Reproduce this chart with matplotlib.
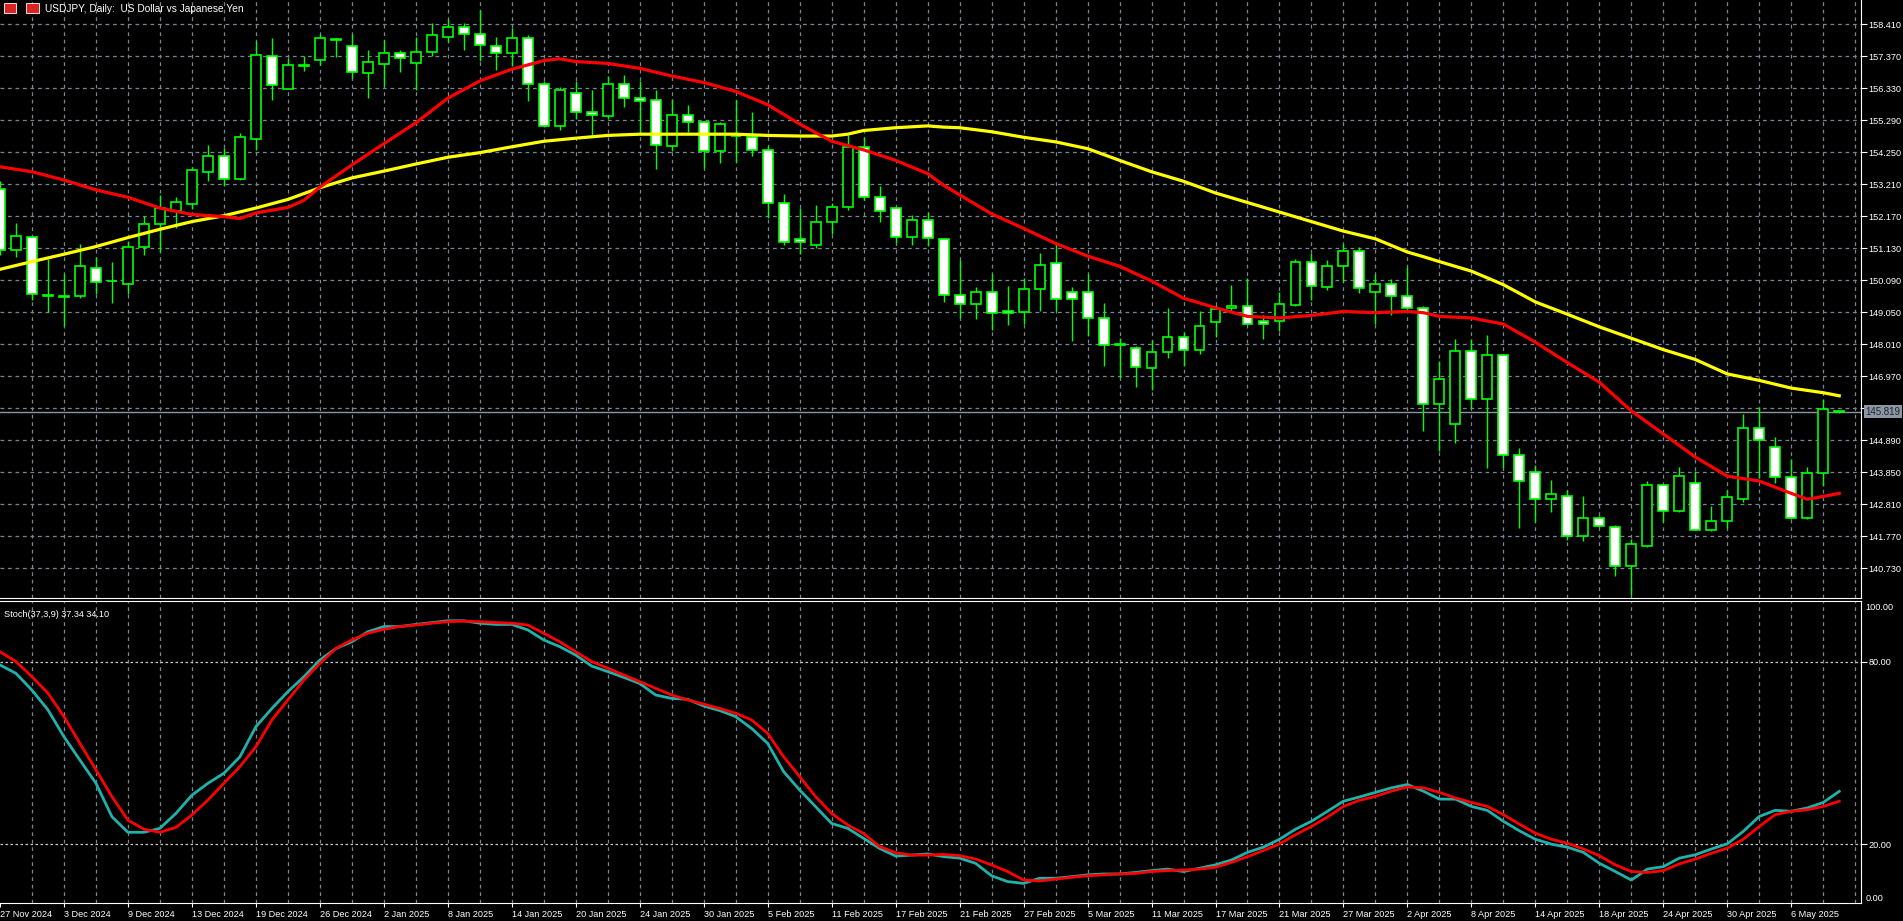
import matplotlib
matplotlib.use("Agg")
import matplotlib.pyplot as plt
from matplotlib.patches import Rectangle
import numpy as np

plt.rcParams["font.family"] = ["Liberation Sans", "DejaVu Sans"]

# ---------------- data ----------------
ohlc = [
(153.05,153.30,150.90,151.06),(151.06,151.95,150.85,151.52),(151.49,151.50,149.44,149.63),(149.60,150.77,149.04,149.58),
(149.57,150.28,148.61,149.55),(149.57,151.25,149.50,150.55),(150.49,150.85,149.63,150.03),(150.07,150.67,149.36,150.05),
(149.96,151.37,149.63,151.17),(151.16,152.18,150.90,151.91),(151.91,152.86,151.00,152.43),(152.34,152.78,151.78,152.63),
(152.55,153.76,152.39,153.67),(153.61,154.48,153.30,154.11),(154.11,154.38,153.15,153.39),(153.39,154.88,153.34,154.73),
(154.67,157.86,154.33,157.40),(157.37,157.94,155.95,156.43),(156.30,157.32,156.30,157.09),(157.05,157.38,156.88,157.07),
(157.25,158.09,157.07,157.96),(157.89,157.96,157.34,157.91),(157.71,158.09,156.66,156.84),(156.82,157.56,156.00,157.19),
(157.12,157.90,156.41,157.46),(157.46,157.56,156.84,157.30),(157.13,157.99,156.25,157.50),(157.49,158.43,157.37,158.06),
(158.00,158.56,157.84,158.31),(158.31,158.43,157.56,158.09),(158.09,158.88,157.22,157.74),(157.69,157.99,156.90,157.46),
(157.46,158.27,157.03,157.96),(157.96,158.06,155.91,156.47),(156.47,156.56,155.05,155.10),(155.10,156.37,154.98,156.27),
(156.17,156.57,155.31,155.55),(155.55,156.25,154.79,155.44),(155.41,156.72,155.33,156.47),(156.47,156.76,155.72,156.01),
(156.01,156.57,154.85,155.91),(155.95,156.25,153.70,154.48),(154.44,155.97,154.29,155.45),(155.45,155.79,154.91,155.23),
(155.23,155.25,153.73,154.28),(154.28,155.23,153.88,155.16),(154.76,155.95,153.92,154.78),(154.73,155.54,154.13,154.32),
(154.32,154.44,152.12,152.59),(152.59,152.89,151.22,151.33),(151.42,152.43,150.93,151.33),(151.22,152.53,151.12,151.99),
(151.97,152.61,151.59,152.46),(152.45,154.79,152.37,154.42),(154.42,154.73,152.68,152.78),(152.78,153.15,151.99,152.34),
(152.43,152.45,151.31,151.49),(151.49,152.22,151.22,152.03),(152.03,152.30,151.21,151.46),(151.41,151.45,149.38,149.60),
(149.60,150.75,148.86,149.32),(149.32,149.88,148.82,149.69),(149.69,150.28,148.48,149.03),(149.07,149.90,148.63,149.01),
(149.04,150.15,148.66,149.79),(149.79,150.97,149.07,150.57),(150.65,151.25,149.07,149.48),(149.69,149.88,148.11,149.48),
(149.69,150.28,148.26,148.86),(148.86,149.34,147.29,147.99),(148.01,148.20,146.92,147.99),(147.89,147.95,146.61,147.27),
(147.23,148.14,146.52,147.76),(147.74,149.19,147.55,148.24),(148.24,148.39,147.30,147.83),(147.83,149.07,147.68,148.60),
(148.72,149.28,148.24,149.16),(149.17,149.94,149.07,149.26),(149.26,150.15,148.66,148.66),(148.76,148.94,148.16,148.66),
(148.76,149.69,148.45,149.32),(149.28,150.77,149.26,150.67),(150.67,150.96,149.44,149.90),(149.85,150.75,149.78,150.54),
(150.54,151.25,150.03,151.03),(151.03,151.16,149.67,149.84),(149.69,150.28,148.66,149.96),(149.96,150.12,148.94,149.57),
(149.57,150.50,149.11,149.19),(149.19,149.25,145.18,146.05),(146.05,147.45,144.53,146.89),(145.42,148.16,144.80,147.79),
(147.79,148.16,145.92,146.23),(146.23,148.29,143.97,147.66),(147.66,147.68,143.97,144.41),(144.41,144.63,142.04,143.56),
(143.85,144.09,142.23,142.97),(142.97,143.60,142.56,143.14),(143.07,143.26,141.64,141.79),(141.79,143.07,141.60,142.35),
(142.35,142.41,142.08,142.10),(142.07,142.13,140.49,140.80),(140.80,141.69,139.87,141.52),(141.44,143.56,141.42,143.43),
(143.43,143.45,142.23,142.60),(142.60,144.03,142.54,143.72),(143.51,143.88,141.96,141.98),(141.98,142.76,141.94,142.26),
(142.26,143.26,142.04,143.04),(142.97,145.75,142.88,145.28),(145.28,145.96,143.66,144.88),(144.68,145.00,143.51,143.68),
(143.68,144.28,142.33,142.35),(142.35,144.03,142.33,143.81),(143.81,146.21,143.39,145.90),(145.80,145.85,145.78,145.819),
]
opens = [r[0] for r in ohlc]
highs = [r[1] for r in ohlc]
lows = [r[2] for r in ohlc]
closes = [r[3] for r in ohlc]

ma_fast_idx = [0,2,4,6,8,10,12,14,15,16,18,19,20,22,24,26,28,30,32,34,35,36,38,40,42,44,46,48,50,52,54,56,58,59,60,62,64,66,68,70,72,74,76,78,80,82,84,86,88,89,90,92,94,96,98,100,102,104,106,108,110,112,113,114,115]
ma_fast = [153.77,153.61,153.34,153.02,152.78,152.43,152.22,152.15,152.09,152.27,152.45,152.68,153.11,153.83,154.52,155.20,156.00,156.56,156.94,157.22,157.28,157.19,157.13,156.97,156.72,156.51,156.22,155.79,155.16,154.60,154.32,153.98,153.55,153.17,152.86,152.24,151.77,151.28,150.87,150.54,150.06,149.50,149.19,148.91,148.86,148.94,149.07,149.03,149.07,149.03,148.91,148.86,148.66,148.07,147.41,146.77,145.84,145.09,144.34,143.72,143.56,143.16,142.97,143.06,143.16]

ma_slow_idx = list(range(0, 39, 2)) + [40,42,44,46,48,50,52,53,54,56,58,59,60,62,64,66,68,70,72,74,76,78,80,82,84,86,88,89,90,92,94,96,98,100,102,104,106,108,110,112,114,115]
ma_slow = [150.44,150.69,150.93,151.18,151.47,151.74,151.99,152.18,152.43,152.71,153.09,153.41,153.63,153.86,154.08,154.23,154.42,154.60,154.70,154.79,
           154.83,154.83,154.83,154.83,154.79,154.77,154.77,154.83,154.95,155.04,155.10,155.06,155.04,154.91,154.73,154.58,154.36,153.98,153.61,153.30,152.92,152.61,152.30,151.99,151.68,151.43,151.00,150.85,150.69,150.38,149.94,149.38,148.98,148.57,148.20,147.83,147.51,147.04,146.83,146.58,146.43,146.33]

stoch_main = [78.9,76.1,70.6,64.1,55.3,47.6,40.0,29.0,23.9,23.9,25.2,30.1,36.1,40.0,43.3,48.7,58.6,64.6,70.1,75.0,
              80.5,84.3,86.5,89.8,91.5,91.5,92.2,92.8,93.4,93.4,92.6,92.2,92.2,90.4,87.1,84.9,82.1,78.5,76.7,74.8,
              72.8,69.0,67.9,67.6,65.4,63.9,61.9,58.0,53.1,43.8,37.8,32.3,26.8,25.2,21.9,18.6,16.1,16.4,16.8,15.9,
              15.4,13.7,9.6,7.7,7.1,8.8,8.8,9.3,9.9,10.2,10.2,10.7,11.3,11.8,11.0,12.1,13.2,14.8,17.3,19.0,
              21.6,24.9,27.5,30.8,34.1,35.5,37.0,38.5,39.6,37.4,34.8,34.8,32.4,31.1,27.5,24.4,21.6,20.0,19.0,17.3,
              13.7,11.0,8.2,11.8,12.6,15.4,16.5,18.4,20.1,24.2,29.1,31.1,30.8,31.9,33.7,37.34]
stoch_signal = [83.2,80.0,75.0,69.6,61.9,53.1,44.4,35.6,27.9,24.9,23.9,25.5,29.6,34.5,40.0,45.5,52.0,60.8,67.4,73.9,
                79.4,84.3,87.1,89.3,90.6,91.5,92.0,92.6,93.1,93.3,93.1,92.8,92.6,92.0,89.3,86.5,83.2,80.0,77.8,75.6,
                73.4,71.2,69.0,67.4,66.0,64.6,63.0,60.8,56.4,48.7,42.2,35.6,30.1,26.3,23.5,19.2,17.2,16.4,16.4,16.6,
                16.2,15.1,13.2,11.0,8.2,7.9,8.5,9.1,9.6,9.9,10.2,10.4,11.0,11.3,11.5,11.8,12.4,14.0,15.9,17.9,
                20.1,23.1,25.8,28.9,32.4,34.4,35.7,37.4,38.8,38.5,37.0,35.2,33.7,32.4,29.7,26.6,23.6,21.6,20.3,18.4,
                16.2,13.2,11.0,10.7,11.3,13.5,15.1,17.0,18.7,21.6,25.8,29.7,30.8,31.3,32.4,34.10]

date_labels = ["27 Nov 2024","3 Dec 2024","9 Dec 2024","13 Dec 2024","19 Dec 2024","26 Dec 2024","2 Jan 2025",
               "8 Jan 2025","14 Jan 2025","20 Jan 2025","24 Jan 2025","30 Jan 2025","5 Feb 2025","11 Feb 2025",
               "17 Feb 2025","21 Feb 2025","27 Feb 2025","5 Mar 2025","11 Mar 2025","17 Mar 2025","21 Mar 2025",
               "27 Mar 2025","2 Apr 2025","8 Apr 2025","14 Apr 2025","18 Apr 2025","24 Apr 2025","30 Apr 2025","6 May 2025"]
price_ticks = [158.410,157.370,156.330,155.290,154.250,153.210,152.170,151.130,150.090,149.050,
               148.010,146.970,145.930,144.890,143.850,142.810,141.770,140.730]
current_price = 145.819

# ---------------- layout ----------------
W, H = 1903, 921
fig = plt.figure(figsize=(W/100, H/100), dpi=100, facecolor="black")
GRID = "#7a8594"
LIME = "#00ff00"
FS = 6.6
def rect(x0, y0, x1, y1):
    return [x0/W, 1-y1/H, (x1-x0)/W, (y1-y0)/H]

ax = fig.add_axes(rect(0, 0, 1861, 598))
ax2 = fig.add_axes(rect(0, 601, 1861, 903), sharex=ax)
for a in (ax, ax2):
    a.set_facecolor("black")
    for s in a.spines.values():
        s.set_visible(False)
    a.spines["right"].set_visible(True); a.spines["right"].set_color("white")
    a.spines["bottom"].set_visible(True); a.spines["bottom"].set_color("white")
ax2.spines["top"].set_visible(True); ax2.spines["top"].set_color("white")

n = len(opens)
xs = np.arange(n)
ax.set_xlim(0.044, 116.36)
ax.set_ylim(139.76, 159.19)
ax2.set_ylim(0.66, 99.9)

for k in range(2, 117, 2):
    ax.axvline(k, color=GRID, lw=0.9, ls=(0, (3, 3)), zorder=0)
    ax2.axvline(k, color=GRID, lw=0.9, ls=(0, (3, 3)), zorder=0)
for p in price_ticks:
    ax.axhline(p, color=GRID, lw=0.9, ls=(0, (3, 3)), zorder=0)
for v in (80, 20):
    ax2.axhline(v, color="#c8c8c8", lw=0.9, ls=(0, (2, 2)), zorder=0)

bw = 0.62
for k in range(n):
    o, h, l, c = opens[k], highs[k], lows[k], closes[k]
    ax.vlines(xs[k], l, h, color=LIME, lw=1.0, zorder=2)
    bot, top = min(o, c), max(o, c)
    face = "black" if c >= o else "white"
    hgt = max(top - bot, 0.02)
    ax.add_patch(Rectangle((xs[k]-bw/2, bot), bw, hgt, facecolor=face,
                           edgecolor=LIME, lw=1.2, zorder=3))

ax.plot(ma_slow_idx, ma_slow, color="#ffff00", lw=2.3, zorder=4)
ax.plot(ma_fast_idx, ma_fast, color="#ff0000", lw=2.3, zorder=4)
ax.axhline(current_price, color="#8a96a3", lw=1.0, zorder=1)

ax.yaxis.tick_right()
ax.set_yticks(price_ticks)
ax.set_yticklabels([("%.3f" % p) for p in price_ticks])
ax.tick_params(axis="y", colors="white", labelcolor="white", labelsize=FS, length=4, pad=1.5, direction="out")
ax.tick_params(axis="x", bottom=False, labelbottom=False)
ax.text(1.0025, (current_price-139.76)/(159.19-139.76), "%.3f" % current_price, transform=ax.transAxes,
        fontsize=FS+0.4, color="#1c2430", va="center", ha="left",
        bbox=dict(boxstyle="square,pad=0.15", facecolor="#8c97a3", edgecolor="none"), zorder=10, clip_on=False)

fig.patches.append(Rectangle((4/W, 1-13/H), 12/W, 10/H, transform=fig.transFigure, facecolor="#dd2222", edgecolor="white", lw=0.6))
fig.patches.append(Rectangle((26/W, 1-13/H), 13/W, 10/H, transform=fig.transFigure, facecolor="#dd2222", edgecolor="white", lw=0.6))
fig.text(45/W, 1-9/H, "USDJPY, Daily:  US Dollar vs Japanese Yen", color="white", fontsize=7.3, va="center", ha="left")

ax2.plot(xs, stoch_main, color="#20b2aa", lw=2.0, zorder=3)
ax2.plot(xs, stoch_signal, color="#ff0000", lw=2.0, zorder=4)
ax2.text(0.002, 95.5, "Stoch(37,3,9) 37.34 34.10", transform=ax2.get_yaxis_transform(), color="white",
         fontsize=FS, va="center", ha="left")
ax2.yaxis.tick_right()
ax2.set_yticks([80, 20])
ax2.set_yticklabels(["80.00", "20.00"])
ax2.tick_params(axis="y", colors="white", labelcolor="white", labelsize=FS, length=4, pad=1.5, direction="out")
ax2.text(1.0025, 97.9, "100.00", transform=ax2.get_yaxis_transform(), color="white", fontsize=FS, va="center", ha="left")
ax2.text(1.0025, 2.3, "0.00", transform=ax2.get_yaxis_transform(), color="white", fontsize=FS, va="center", ha="left")

ax2.set_xticks(np.arange(0, 4*len(date_labels), 4))
ax2.set_xticklabels(date_labels, ha="left")
ax2.tick_params(axis="x", colors="white", labelcolor="white", labelsize=FS, length=3, pad=2, direction="out")

fig.savefig("out.png", dpi=100, facecolor="black")
